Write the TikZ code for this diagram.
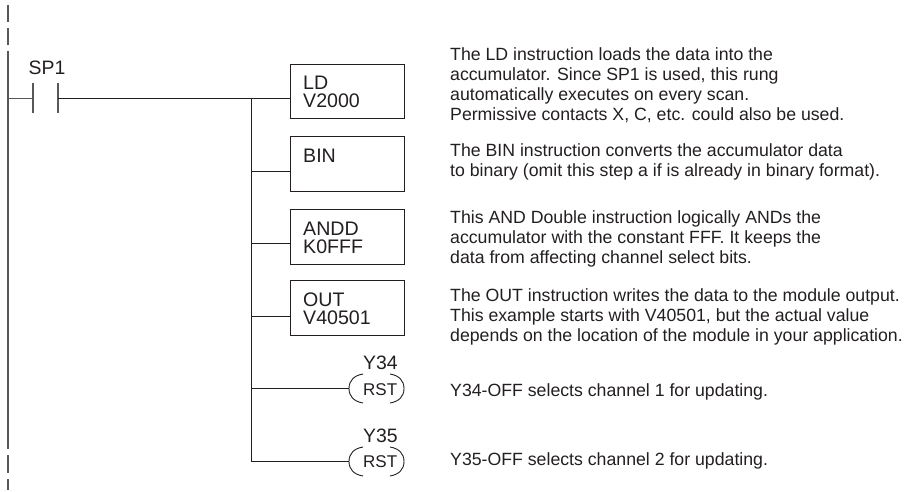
\documentclass[tikz,border=0pt]{standalone}
\usepackage{fontspec}
\setmainfont{Liberation Sans}
\definecolor{ink}{HTML}{231F20}
\newcommand\blk[2]{\vtop{\baselineskip=#1pt\lineskiplimit=-30pt\halign{##\hfil\cr #2\cr}}}
\tikzset{
  wire/.style={draw=ink,line width=0.9pt},
  rail/.style={draw=ink!75,line width=1.1pt},
  instr/.style={draw=ink,line width=0.9pt,minimum width=114pt,minimum height=54.5pt,inner sep=0pt,anchor=north west},
  lab/.style={anchor=base west,inner sep=0pt,text=ink,font=\fontsize{19.4pt}{19.4pt}\selectfont},
  boxlab/.style={anchor=base west,inner sep=0pt,text=ink,font=\fontsize{19.6pt}{18pt}\selectfont},
  rst/.style={anchor=base west,inner sep=0pt,text=ink,font=\fontsize{17pt}{17pt}\selectfont},
  note/.style={anchor=base west,inner sep=0pt,text=ink,font=\fontsize{17.7pt}{20pt}\selectfont},
}
\begin{document}
\begin{tikzpicture}[x=1pt,y=-1pt]
\useasboundingbox (0,0) rectangle (910,492);
% rails
\draw[rail] (8,5) -- (8,22);
\draw[rail] (8,28) -- (8,45);
\draw[rail] (8,51) -- (8,449);
\draw[rail] (8,455) -- (8,473);
\draw[rail] (8,479) -- (8,490);
% contact
\coordinate (railtap) at (8,98);
\coordinate (cl) at (33,98);
\coordinate (cr) at (58,98);
\coordinate (branch) at (251,98);
\coordinate (bend) at (251,461.5);
\draw[rail] (33,83) -- (33,113);
\draw[rail] (58,83) -- (58,113);
\draw[wire,draw=ink!75] (railtap) -- (cl);
\node[lab] (sp) at (28.5,75) {SP1};
% boxes
\node[instr] (b1) at (290,63.7) {};
\node[instr] (b2) at (290,136.5) {};
\node[instr] (b3) at (290,209) {};
\node[instr] (b4) at (290,280) {};
\coordinate (s1) at (290,98);
\coordinate (s2) at (290,171);
\coordinate (s3) at (290,243);
\coordinate (s4) at (290,316);
\node[boxlab] (t1) at (303,90) {\blk{18}{LD\cr V2000}};
\node[boxlab] (t2) at (303,162.5) {BIN};
\node[boxlab] (t3) at (303,235) {\blk{18}{ANDD\cr K0FFF}};
\node[boxlab] (t4) at (303,306.7) {\blk{18}{OUT\cr V40501}};
% rung and branch
\draw[wire] (cr) -- (s1);
\draw[wire] (branch) -- (bend);
\draw[wire] (s2 -| branch) -- (s2);
\draw[wire] (s3 -| branch) -- (s3);
\draw[wire] (s4 -| branch) -- (s4);
% coils
\node[rst] (r1) at (363,395) {RST};
\node[rst] (r2) at (363,467.7) {RST};
\node[lab] (y1) at (363,369) {Y34};
\node[lab] (y2) at (363,442) {Y35};
\coordinate (c1w) at (349,388.5);
\coordinate (c2w) at (349,461.5);
\draw[wire] (c1w -| branch) -- (c1w);
\draw[wire] (bend) -- (c2w);
\foreach \cy in {388.5,461.5}{
  \draw[wire] (363,\cy-14.5) .. controls (354,\cy-13) and (349,\cy-8) .. (349,\cy) .. controls (349,\cy+8) and (354,\cy+13) .. (363,\cy+14.5);
  \draw[wire] (390,\cy-14.5) .. controls (399,\cy-13) and (404,\cy-8) .. (404,\cy) .. controls (404,\cy+8) and (399,\cy+13) .. (390,\cy+14.5);
}
% notes
\node[note] (n1) at (450,60.7) {\blk{20}{The LD instruction loads the data into the\cr accumulator. Since SP1 is used, this rung\cr automatically executes on every scan.\cr Permissive contacts X, C, etc. could also be used.}};
\node[note] (n2) at (450,156.7) {\blk{20}{The BIN instruction converts the accumulator data\cr to binary (omit this step a if is already in binary format).}};
\node[note] (n3) at (450,223.3) {\blk{20}{This AND Double instruction logically ANDs the\cr accumulator with the constant FFF. It keeps the\cr data from affecting channel select bits.}};
\node[note] (n4) at (450,301.7) {\blk{20}{The OUT instruction writes the data to the module output.\cr This example starts with V40501, but the actual value\cr depends on the location of the module in your application.}};
\node[note] (n5) at (450,396) {Y34-OFF selects channel 1 for updating.};
\node[note] (n6) at (450,465) {Y35-OFF selects channel 2 for updating.};
\end{tikzpicture}
\end{document}
